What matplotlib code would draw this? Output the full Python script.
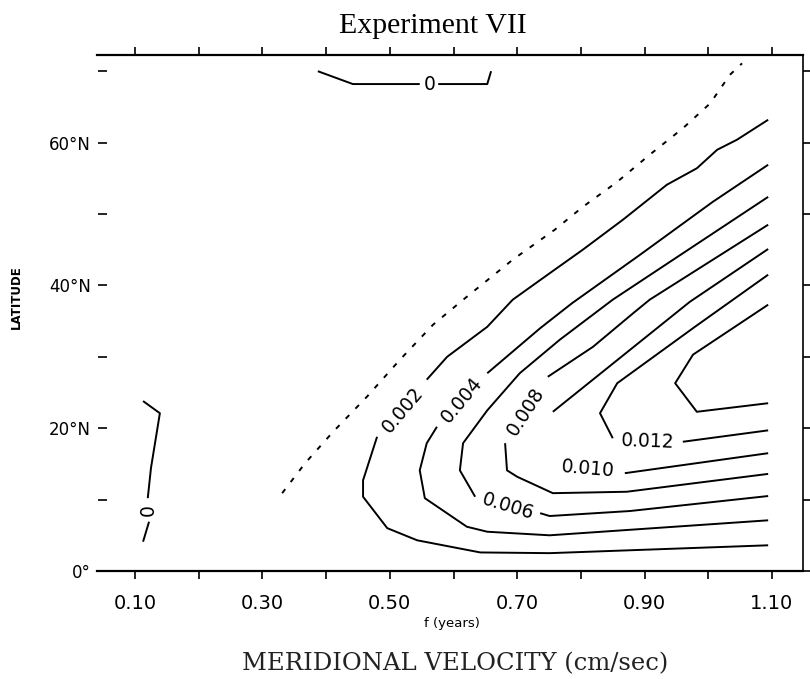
import matplotlib
matplotlib.use('Agg')
import matplotlib.pyplot as plt
import numpy as np

nan = np.nan

# contour levels (cm/sec), each traced from the lower right edge around to the upper right edge
# nan marks the gap left for the contour label
c002_x = [1.094, 0.751, 0.642, 0.543, 0.496, 0.458, 0.458, 0.480, nan, 0.558, 0.590, 0.653, 0.693, 0.751, 0.803, 0.866, 0.935, 0.982, 1.014, 1.045, 1.094]
c002_y = [3.6, 2.5, 2.6, 4.3, 6.0, 10.4, 12.7, 18.8, nan, 26.8, 30.0, 34.2, 38.0, 41.7, 45.0, 49.2, 54.1, 56.4, 59.0, 60.4, 63.2]

c004_x = [1.094, 0.751, 0.653, 0.621, 0.555, 0.547, 0.558, 0.574, nan, 0.653, 0.736, 0.786, 0.893, 1.007, 1.094]
c004_y = [7.1, 5.0, 5.5, 6.2, 10.2, 14.1, 17.9, 20.2, nan, 27.7, 34.0, 37.5, 44.3, 51.7, 56.9]

c006_x = [1.094, 0.877, 0.751, 0.736, nan, 0.634, 0.610, 0.615, 0.653, 0.704, 0.767, 0.850, 1.094]
c006_y = [10.5, 8.4, 7.7, 8.1, nan, 10.4, 14.1, 17.9, 22.5, 27.7, 32.4, 38.0, 52.4]

c008_x = [1.094, 0.872, 0.756, 0.700, 0.684, 0.681, nan, 0.748, 0.819, 0.882, 0.908, 1.094]
c008_y = [13.6, 11.1, 10.9, 13.2, 14.1, 17.9, nan, 27.2, 31.4, 36.1, 38.0, 48.5]

c010_x = [1.094, 0.869, nan, 0.756, 0.971, 1.094]
c010_y = [16.5, 13.7, nan, 22.3, 37.7, 45.1]

c012_x = [1.094, 0.960, nan, 0.850, 0.830, 0.857, 0.979, 1.094]
c012_y = [19.7, 18.1, nan, 18.6, 22.1, 26.3, 34.2, 41.5]

c014_x = [1.094, 0.976, 0.948, 0.982, 1.094]
c014_y = [37.3, 30.3, 26.3, 22.3, 23.5]

# zero contours
z_top_x = [0.387, 0.442, 0.547, nan, 0.576, 0.653, 0.659]
z_top_y = [70.0, 68.2, 68.2, nan, 68.2, 68.2, 70.0]
z_left_x = [0.1126, 0.139, 0.125, 0.120, nan, 0.122, 0.1126]
z_left_y = [23.8, 22.1, 14.4, 10.2, nan, 6.9, 4.1]

# dashed line
dash_x = [0.331, 0.367, 0.411, 0.464, 0.516, 0.568, 0.618, 0.693, 0.759, 0.803, 0.857, 0.908, 0.960, 1.003, 1.034, 1.053]
dash_y = [10.9, 15.1, 19.5, 24.4, 29.6, 34.5, 38.2, 43.6, 47.8, 51.0, 54.5, 58.3, 62.0, 65.5, 69.5, 71.1]

x_ticks = [0.10, 0.20, 0.30, 0.40, 0.50, 0.60, 0.70, 0.80, 0.90, 1.00, 1.10]
x_ticklabels = ['0.10', '', '0.30', '', '0.50', '', '0.70', '', '0.90', '', '1.10']
y_ticks = [0, 10, 20, 30, 40, 50, 60, 70]
y_ticklabels = ['0°', '', '20°N', '', '40°N', '', '60°N', '']

contours = [
    (c002_x, c002_y), (c004_x, c004_y), (c006_x, c006_y), (c008_x, c008_y),
    (c010_x, c010_y), (c012_x, c012_y), (c014_x, c014_y),
    (z_top_x, z_top_y), (z_left_x, z_left_y),
]

# label text, position (data units) and rotation
labels = [
    ('0.002', 0.521, 22.5, 50),
    ('0.004', 0.613, 24.0, 50),
    ('0.008', 0.714, 22.3, 57),
    ('0.006', 0.686, 9.0, -17),
    ('0.010', 0.811, 14.3, -5),
    ('0.012', 0.905, 18.2, -2),
    ('0', 0.562, 68.1, 0),
    ('0', 0.120, 8.5, 90),
]

fig = plt.figure(figsize=(8.1, 6.79), dpi=100)
ax = fig.add_axes([97 / 810, 1 - 571 / 679, 706 / 810, 516 / 679])

for cx, cy in contours:
    ax.plot(cx, cy, color='black', lw=1.4, solid_capstyle='butt')
ax.plot(dash_x, dash_y, color='black', lw=1.4, linestyle=(0, (2.6, 4.6)))

for txt, lx, ly, rot in labels:
    ax.text(lx, ly, txt, rotation=rot, rotation_mode='anchor', ha='center', va='center',
            fontsize=13.5, family='DejaVu Sans')

ax.set_xlim(0.0403, 1.1487)
ax.set_ylim(0, 72.27)

ax.set_xticks(x_ticks)
ax.set_xticklabels(x_ticklabels)
ax.set_yticks(y_ticks)
ax.set_yticklabels(y_ticklabels)

ax.tick_params(axis='x', direction='out', length=5.8, width=1.2, pad=10.5,
               labelsize=14, top=True, bottom=True)
ax.tick_params(axis='y', direction='out', length=6.5, width=1.2, pad=5,
               labelsize=12, left=True, right=True)

ax.spines['left'].set_position(('outward', -7.2))
ax.spines['left'].set_visible(False)
for s in ['top', 'bottom']:
    ax.spines[s].set_linewidth(1.6)
ax.spines['right'].set_linewidth(1.2)

fig.text(433 / 810, 1 - 33 / 679, 'Experiment VII', ha='center', va='baseline',
         family='Liberation Serif', fontsize=21.5)
fig.text(452 / 810, 1 - 627 / 679, 'f (years)', ha='center', va='baseline', fontsize=9.5)
fig.text(455 / 810, 1 - 670 / 679, 'MERIDIONAL VELOCITY (cm/sec)', ha='center', va='baseline',
         family='DejaVu Serif', fontsize=17.5, color='#222222')
fig.text(16 / 810, 1 - 297 / 679, 'LATITUDE', rotation=90, ha='center', va='center',
         fontsize=8.5, fontweight='bold')

fig.savefig('out.png', dpi=100)
